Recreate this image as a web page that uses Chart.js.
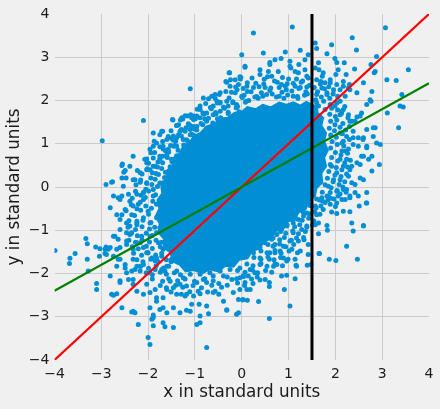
<!DOCTYPE html>
<html>
<head>
<meta charset="utf-8">
<style>
  html, body { margin: 0; padding: 0; background: #f0f0f0; }
  #wrap { width: 440px; height: 409px; }
</style>
<script src="https://cdn.jsdelivr.net/npm/chart.js@4.4.1/dist/chart.umd.min.js"></script>
</head>
<body>
<div id="wrap"><canvas id="scatter-chart" width="440" height="409"></canvas></div>
<script>
/* ── Data ───────────────────────────────────────────────── */
const TICKS   = [-4, -3, -2, -1, 0, 1, 2, 3, 4];
const X_LABEL = 'x in standard units';
const Y_LABEL = 'y in standard units';

// ragged outline of the solid centre of the cloud (too dense to read point by point)
const coreOutline = [
  [1.5, 1.9], [1.38, 1.97], [1.25, 1.88], [1.1, 1.96], [0.95, 1.9], [0.8, 1.95], [0.62, 1.84],
  [0.45, 1.9], [0.3, 1.8], [0.12, 1.85], [0.0, 1.74], [-0.15, 1.72], [-0.3, 1.6], [-0.45, 1.58],
  [-0.6, 1.45], [-0.75, 1.4], [-0.88, 1.25], [-1.02, 1.18], [-1.12, 1.02], [-1.25, 0.95],
  [-1.32, 0.78], [-1.45, 0.68], [-1.48, 0.5], [-1.6, 0.38], [-1.6, 0.2], [-1.72, 0.05],
  [-1.7, -0.15], [-1.8, -0.3], [-1.76, -0.5], [-1.84, -0.68], [-1.75, -0.85], [-1.78, -1.05],
  [-1.66, -1.2], [-1.66, -1.4], [-1.52, -1.52], [-1.48, -1.72], [-1.32, -1.8], [-1.2, -1.95],
  [-1.02, -1.92], [-0.85, -2.0], [-0.68, -1.9], [-0.5, -1.95], [-0.35, -1.82], [-0.18, -1.84],
  [-0.05, -1.68], [0.12, -1.65], [0.22, -1.48], [0.38, -1.42], [0.48, -1.25], [0.62, -1.2],
  [0.72, -1.02], [0.88, -0.98], [0.98, -0.8], [1.12, -0.76], [1.22, -0.58], [1.36, -0.52],
  [1.44, -0.32], [1.56, -0.22], [1.6, -0.02], [1.72, 0.1], [1.7, 0.32], [1.8, 0.48],
  [1.76, 0.68], [1.84, 0.85], [1.76, 1.05], [1.8, 1.25], [1.7, 1.42], [1.74, 1.6],
  [1.62, 1.72], [1.6, 1.86], [1.5, 1.9],
];

const dots = [
  // upper left
  [-2.98, 1.07], [-2.10, 1.54], [-1.10, 2.27], [-2.32, 0.71], [-2.90, 0.06], [-2.76, 0.12],
  [-2.55, 0.53], [-2.49, 0.38], [-2.39, 0.48], [-2.23, 0.38], [-2.03, 0.56], [-1.94, 0.79],
  [-1.89, 0.94], [-1.82, 1.02], [-1.69, 1.29], [-1.46, 1.18], [-1.48, 1.56], [-1.28, 1.60],
  [-1.21, 1.65], [-1.03, 1.64], [-0.89, 1.79], [-0.82, 2.06], [-0.71, 2.04], [-0.64, 2.10],
  [-0.57, 2.14], [-0.48, 2.14], [-2.74, -0.21], [-2.60, -0.29], [-2.39, -0.33], [-2.24, -0.17],
  [-2.10, -0.13], [-2.52, 0.34], [-2.56, 0.21], [-2.32, 0.17], [-2.03, 0.40], [-1.89, 0.48],
  [-1.75, 0.71], [-1.60, 0.83], [-1.68, 0.94], [-1.60, 1.10], [-1.39, 0.94], [-1.21, 1.29],
  [-1.10, 1.33], [-0.96, 1.40], [-1.35, 1.44], [-0.89, 1.60], [-0.75, 1.71], [-0.61, 1.87],
  [-0.53, 1.98], [-1.47, 1.55], [-1.26, 1.57], [-1.16, 1.64], [-1.07, 1.60], [-0.96, 1.64],
  [-0.89, 1.87], [-0.46, 2.18], [-0.34, 2.21], [-0.25, 2.33], [-0.24, 2.48], [-0.27, 2.64],
  [-0.32, 2.42], [-0.07, 2.37], [0.07, 2.79], [-0.04, 2.55], [0.11, 2.33], [-0.14, 2.18],
  [-0.52, 1.94], [-0.32, 1.98], [-1.71, 1.29], [-1.75, 1.21], [-1.87, 1.06], [-1.96, 0.87],
  [-2.03, 0.65], [-2.56, 0.50], [-2.47, 0.21], [-2.78, 0.11], [-2.53, 0.02], [-2.17, 0.11],
  [-2.07, 0.64], [-1.57, 0.87], [-1.68, 0.88], [-1.43, 0.96], [-1.89, 1.25], [-1.50, 1.12],
  [-1.32, 1.29], [-1.19, 1.37], [-1.39, 1.42], [-1.39, 1.14], [-1.25, 1.10], [-1.10, 1.21],
  [-1.03, 1.40], [-0.75, 1.52], [-0.61, 1.67], [-0.46, 1.75], [-0.29, 1.87], [-0.11, 1.91],
  [-1.60, 0.75], [-1.50, 0.64], [-1.75, 0.64], [-1.85, 0.48], [-1.78, 0.29], [-1.96, 0.40],
  [-2.17, 0.33], [-2.28, 0.17], [-2.03, 0.10], [-1.89, -0.06], [-1.68, 0.10], [-2.10, -0.13],
  // top
  [0.25, 3.56], [1.08, 3.70], [3.07, 3.68], [2.36, 3.45], [2.45, 3.17], [1.57, 3.33],
  [1.92, 3.29], [1.82, 3.08], [1.60, 3.20], [0.00, 3.06], [0.46, 3.10], [0.93, 3.12],
  [1.25, 3.16], [1.42, 3.06], [0.84, 2.97], [0.71, 2.94], [0.60, 2.88], [1.03, 2.91],
  [1.22, 2.83], [1.35, 2.94], [0.07, 2.77], [0.39, 2.71], [0.57, 2.67], [0.78, 2.67],
  [1.05, 2.75], [1.14, 2.67], [-0.26, 2.64], [-0.34, 2.44], [-0.14, 2.48], [-0.02, 2.54],
  [0.60, 2.83], [0.64, 2.56], [1.03, 2.79], [1.21, 2.64], [1.39, 2.56], [0.39, 2.60],
  [0.85, 2.37], [1.14, 2.33], [1.35, 2.71], [0.00, 2.10], [0.20, 2.20], [0.35, 2.05],
  [0.50, 2.30], [0.65, 2.15], [0.80, 2.10], [0.95, 2.25], [1.10, 2.10], [1.25, 2.30],
  [1.40, 2.15], [0.30, 2.40], [0.70, 2.45], [1.00, 2.50], [1.30, 2.45], [-0.10, 2.25],
  [0.15, 2.00], [0.45, 2.10], [0.90, 2.05], [1.20, 2.05], [1.45, 2.35], [0.55, 2.55],
  [0.25, 2.30], [1.10, 2.40], [0.80, 2.30],
  // upper right
  [1.99, 2.97], [2.03, 2.88], [2.19, 2.87], [2.06, 2.71], [2.41, 2.73], [1.65, 2.71],
  [1.72, 2.56], [1.89, 2.48], [1.69, 2.44], [2.01, 2.60], [2.17, 2.44], [2.30, 2.37],
  [2.60, 2.41], [2.85, 2.67], [2.88, 3.02], [2.76, 2.83], [2.83, 2.64], [3.10, 2.48],
  [3.30, 2.46], [3.56, 2.71], [3.42, 2.14], [3.38, 1.87], [3.45, 1.85], [3.35, 1.37],
  [3.11, 1.71], [2.96, 0.98], [2.94, 0.52], [2.78, 0.71], [2.67, 1.33], [2.81, 1.37],
  [2.74, 2.02], [2.78, 2.21], [2.67, 1.91], [2.56, 1.71], [2.46, 1.62], [2.35, 1.52],
  [2.60, 1.14], [2.67, 0.94], [2.49, 0.94], [2.38, 1.14], [2.60, 0.71], [2.53, 0.52],
  [2.60, 0.17], [2.67, -0.13], [2.67, -0.37], [2.42, 0.06], [2.24, -0.06], [2.49, -0.21],
  [2.21, -0.29], [2.31, -0.25], [2.06, -0.21], [2.03, -0.37], [2.10, 0.17], [2.28, 0.25],
  [2.35, 0.48], [2.24, 0.64], [2.14, 0.83], [2.17, 1.06], [2.10, 1.25], [1.99, 1.44],
  [2.14, 1.75], [2.03, 1.94], [2.21, 2.10], [2.10, 2.25], [2.28, 2.29], [1.96, 2.25],
  [1.82, 2.14], [2.76, 1.98], [2.85, 1.37], [2.81, 1.17], [2.88, 1.02], [2.67, 0.91],
  [2.71, 0.64], [2.78, 0.37], [2.59, 1.10], [2.53, 1.64], [2.42, 1.52], [2.31, 1.52],
  [2.28, 1.67], [2.46, 2.18], [2.31, 2.25], [2.17, 2.33], [2.03, 2.37], [1.89, 2.41],
  [2.23, 2.60], [1.64, 2.87], [1.57, 2.75], [1.74, 2.64], [1.60, 2.48], [1.78, 2.41],
  [1.71, 2.29], [1.60, 2.14], [1.82, 2.18], [2.10, 1.98], [1.99, 1.87], [1.89, 1.91],
  [2.17, 1.79], [2.10, 1.67], [1.78, 1.79], [1.64, 1.87], [2.38, 1.29], [2.49, 1.14],
  [2.38, 0.98], [2.56, 0.71], [2.46, 0.56], [2.31, 0.40], [2.53, 0.21], [2.35, 0.10],
  [2.17, -0.06], [2.03, -0.10], [2.31, -0.21], [2.24, 1.17], [2.14, 1.02], [2.21, 0.83],
  [2.10, 0.64], [2.17, 0.48], [2.03, 0.33], [1.92, 0.48], [1.96, 0.17], [1.85, 0.02],
  [1.89, -0.13],
  // lower left
  [-3.99, -1.47], [-3.67, -1.65], [-3.56, -1.54], [-3.68, -1.77], [-3.33, -1.19], [-3.30, -1.31],
  [-3.30, -1.67], [-3.12, -1.39], [-3.04, -1.60], [-3.03, -1.43], [-2.90, -1.39], [-2.85, -1.44],
  [-2.92, -1.54], [-3.10, -2.23], [-3.10, -2.37], [-3.28, -1.94], [-2.81, -2.06], [-2.74, -2.50],
  [-2.67, -2.47], [-2.56, -2.79], [-2.35, -2.89], [-2.28, -2.91], [-2.21, -3.18], [-2.00, -3.48],
  [-1.96, -3.64], [-1.92, -3.06], [-1.89, -2.96], [-1.68, -3.14], [-1.46, -3.25], [-0.75, -3.71],
  [-0.89, -3.14], [-0.89, -2.98], [-1.18, -2.85], [-1.32, -2.91], [-1.46, -2.79], [-1.07, -2.71],
  [-0.91, -2.71], [-0.71, -2.93], [-0.61, -2.44], [-1.60, -2.91], [-1.75, -2.83], [-1.68, -2.56],
  [-1.82, -2.64], [-1.96, -2.44], [-2.10, -2.48], [-2.24, -2.41], [-2.03, -2.25], [-2.32, -2.25],
  [-2.42, -2.14], [-2.60, -2.17], [-2.46, -1.98], [-2.67, -1.83], [-2.64, -1.67], [-2.74, -1.60],
  [-2.49, -1.79], [-2.24, -1.83], [-2.35, -1.94], [-2.17, -1.94], [-2.74, -1.14], [-2.60, -0.98],
  [-2.46, -1.25], [-2.60, -1.40], [-2.39, -1.10], [-2.24, -0.87], [-2.81, -0.48], [-2.56, -0.64],
  [-2.46, -0.83], [-2.17, -1.29], [-2.03, -1.52], [-1.82, -1.64], [-1.64, -1.94], [-1.53, -2.18],
  [-1.32, -2.25], [-1.18, -2.48], [-0.93, -2.41], [-0.75, -2.21], [-1.89, -3.21], [-1.89, -3.02],
  [-1.64, -3.23], [-1.10, -2.87], [-0.96, -3.18], [-0.75, -2.75], [-0.32, -2.85], [-0.39, -2.64],
  [-0.11, -2.94], [-0.07, -2.60], [0.03, -2.60], [-0.57, -2.41], [-0.18, -2.44], [0.11, -2.37],
  [-1.96, -2.79], [-1.68, -2.79], [-2.32, -2.87], [-2.78, -2.48], [-2.60, -2.21], [-1.85, -2.37],
  [-1.60, -2.37], [-1.46, -2.33], [-1.18, -2.29], [-0.96, -2.21], [-0.82, -2.14], [-0.61, -2.06],
  [-0.39, -2.06], [-0.21, -2.14], [-0.04, -2.10], [0.14, -2.06], [-1.39, -2.48], [-1.21, -2.52],
  [-1.03, -2.52], [-1.82, -2.56], [-2.32, -2.14], [-2.60, -1.67], [-2.67, -1.44], [-2.71, -1.14],
  [-2.60, -0.75], [-2.67, -0.64], [-2.39, -0.90], [-2.46, -1.06], [-2.24, -1.29], [-2.32, -1.67],
  [-2.17, -1.83], [-1.96, -1.98], [-1.71, -1.91], [-1.85, -1.71], [-2.56, -0.21], [-2.92, -1.44],
  [-2.89, -1.56], [-2.64, -0.25], [-2.42, -0.17], [-2.32, -0.44], [-2.21, -0.40], [-2.10, -0.29],
  [-2.49, -0.52], [-2.35, -0.64], [-2.24, -0.79], [-2.10, -0.71], [-2.00, -0.56], [-1.96, -0.83],
  [-2.35, -1.06], [-2.14, -1.14], [-1.96, -1.14], [-1.82, -1.06], [-1.75, -0.94], [-2.64, -1.21],
  [-2.46, -1.33], [-2.32, -1.44], [-2.10, -1.40], [-2.00, -1.52], [-1.92, -1.64], [-1.71, -1.60],
  [-1.60, -1.83], [-2.81, -1.40], [-2.49, -1.87], [-2.28, -1.91], [-2.10, -1.79], [-1.85, -1.91],
  [-1.68, -1.44], [-1.60, -1.29], [-1.78, -1.29], [-1.60, -1.06], [-1.82, -0.71], [-1.68, -0.52],
  [-1.82, -0.40], [-1.89, -0.21], [-1.60, -0.83], [-1.50, -1.67], [-1.39, -1.94], [-1.25, -2.10],
  [-1.10, -2.02], [-0.89, -2.02], [-0.68, -1.98], [-0.46, -1.94], [-0.25, -1.91], [-0.04, -1.87],
  // lower right
  [2.42, -0.13], [2.23, -0.12], [2.66, -0.37], [2.51, -0.44], [2.31, -0.57], [2.35, -0.83],
  [2.60, -0.89], [2.38, -1.02], [2.17, -0.56], [2.03, -0.61], [1.92, -0.58], [1.82, -0.89],
  [1.83, -1.00], [1.64, -1.08], [2.24, -1.37], [2.47, -1.67], [2.01, -1.70], [1.87, -1.67],
  [1.66, -1.54], [1.57, -0.87], [1.60, -0.64], [1.74, -0.52], [1.89, -0.40], [1.71, -0.25],
  [1.82, -0.21], [2.14, -0.29], [1.48, -1.79], [1.42, -1.56], [1.25, -1.48], [1.14, -1.67],
  [1.16, -1.81], [0.96, -1.71], [0.89, -1.64], [1.07, -1.44], [0.85, -2.06], [0.96, -2.04],
  [1.14, -2.12], [0.91, -2.37], [1.03, -2.75], [0.59, -3.04], [0.36, -2.65], [0.12, -2.62],
  [0.59, -2.30], [0.59, -2.21], [0.50, -2.14], [0.39, -2.15], [0.18, -2.37], [0.07, -2.21],
  [0.28, -1.98], [0.68, -1.83], [0.59, -1.67], [0.75, -1.79], [0.82, -1.48], [0.71, -1.52],
  [1.03, -1.25], [1.21, -1.25], [1.32, -1.17], [1.42, -1.33], [0.39, -1.79], [0.18, -1.91],
  [-0.04, -2.37], [0.03, -2.06], [-0.07, -2.91], [-0.32, -2.84], [0.02, -2.61], [1.17, -1.83],
  [1.40, -1.81], [1.65, -1.54], [2.60, -0.90], [0.11, -1.60], [0.25, -1.52], [0.39, -1.40],
  [0.50, -1.29], [0.64, -1.21], [0.75, -1.10], [0.85, -0.98], [0.96, -0.90], [1.10, -0.83],
  [1.21, -0.75], [1.32, -0.67], [1.39, -0.60], [1.10, -1.06], [1.28, -0.98], [0.60, -1.52],
  [0.39, -1.64], [0.89, -1.37], [0.71, -1.33], [1.39, -0.90], [1.42, -0.37], [1.57, -0.44],
  [1.64, -0.83],
];

const ringDots = [
  // upper left edge
  [-2.47, -0.55], [-2.29, -0.66], [-2.16, -0.54], [-1.99, -0.63], [-2.36, -0.41], [-2.24, -0.50],
  [-2.05, -0.44], [-1.93, -0.49], [-2.34, -0.26], [-2.17, -0.35], [-2.06, -0.24], [-1.90, -0.33],
  [-2.27, -0.10], [-2.15, -0.19], [-1.99, -0.09], [-1.84, -0.18], [-2.26, 0.05], [-2.05, -0.05],
  [-1.92, 0.06], [-1.80, 0.01], [-2.16, 0.16], [-2.03, 0.08], [-1.85, 0.18], [-1.75, 0.09],
  [-2.13, 0.30], [-1.94, 0.21], [-1.83, 0.31], [-1.65, 0.22], [-2.02, 0.42], [-1.91, 0.33],
  [-1.71, 0.43], [-1.63, 0.34], [-1.99, 0.55], [-1.80, 0.46], [-1.69, 0.56], [-1.53, 0.47],
  [-1.89, 0.67], [-1.79, 0.58], [-1.59, 0.68], [-1.49, 0.59], [-1.86, 0.80], [-1.69, 0.71],
  [-1.56, 0.81], [-1.39, 0.72], [-1.75, 0.93], [-1.63, 0.84], [-1.45, 0.94], [-1.36, 0.85],
  [-1.69, 1.05], [-1.52, 0.96], [-1.41, 1.06], [-1.24, 0.97], [-1.16, 1.07], [-1.57, 1.17],
  [-1.46, 1.08], [-1.29, 1.18], [-1.18, 1.09], [-1.02, 1.19], [-1.51, 1.30], [-1.35, 1.21],
  [-1.23, 1.31], [-1.07, 1.22], [-0.96, 1.32], [-1.39, 1.42], [-1.29, 1.33], [-1.11, 1.43],
  [-1.01, 1.34], [-0.83, 1.44], [-0.73, 1.35], [-1.31, 1.55], [-1.14, 1.46], [-1.03, 1.56],
  [-0.87, 1.47], [-0.79, 1.57], [-0.62, 1.48], [-0.52, 1.58], [-1.09, 1.67], [-0.99, 1.58],
  [-0.81, 1.68], [-0.71, 1.59], [-0.55, 1.69], [-0.45, 1.60], [-0.29, 1.70], [-0.95, 1.80],
  [-0.83, 1.71], [-0.65, 1.81], [-0.56, 1.72], [-0.37, 1.82], [-0.29, 1.73], [-0.12, 1.83],
  [-0.06, 1.74], [-0.77, 1.93], [-0.67, 1.84], [-0.47, 1.94], [-0.39, 1.85], [-0.19, 1.95],
  [-0.09, 1.86], [0.08, 1.96], [-0.57, 2.05], [-0.46, 1.96], [-0.27, 2.06], [-0.19, 1.97],
  [0.01, 2.07], [0.09, 1.98], [0.28, 2.08],
  // top edge
  [0.05, 2.12], [0.32, 2.09], [0.53, 2.14], [0.74, 2.08], [0.98, 2.13], [1.19, 2.09],
  [1.34, 2.12], [-0.22, 2.19], [0.12, 2.21], [0.42, 2.18], [0.60, 2.23], [0.86, 2.19],
  [1.07, 2.22], [1.37, 2.20], [-0.13, 2.31], [0.03, 2.28], [0.37, 2.32], [0.62, 2.29],
  [0.93, 2.33], [1.22, 2.28], [1.39, 2.31], [0.12, 2.41], [0.47, 2.38], [0.76, 2.42],
  [0.97, 2.39], [1.27, 2.42], [-0.03, 2.50], [0.22, 2.52], [0.48, 2.49], [0.87, 2.53],
  [1.17, 2.50], [1.42, 2.52], [1.58, 2.02], [1.70, 2.08], [1.88, 2.05], [1.62, 2.20],
  [1.77, 2.27], [1.95, 2.15], [1.55, 2.30], [1.68, 2.38], [1.86, 2.32], [2.05, 2.10],
  [1.60, 1.95], [1.75, 1.98],
  // right edge
  [1.92, 1.82], [2.05, 1.78], [2.20, 1.86], [1.88, 1.68], [2.00, 1.63], [2.13, 1.70],
  [2.27, 1.60], [1.90, 1.52], [2.03, 1.55], [2.16, 1.47], [2.30, 1.40], [1.87, 1.36],
  [1.98, 1.30], [2.10, 1.38], [2.22, 1.32], [1.90, 1.20], [2.02, 1.15], [2.15, 1.23],
  [2.30, 1.10], [1.93, 1.05], [2.04, 0.98], [2.18, 0.95], [2.28, 0.88], [1.90, 0.90],
  [2.00, 0.80], [2.12, 0.74], [2.26, 0.78], [1.92, 0.68], [2.05, 0.60], [2.20, 0.56],
  [2.32, 0.62], [1.89, 0.52], [2.02, 0.45], [2.14, 0.40], [2.26, 0.46], [1.86, 0.36],
  [1.99, 0.28], [2.12, 0.24], [2.24, 0.30], [1.83, 0.20], [1.95, 0.12], [2.08, 0.06],
  [2.20, 0.12], [1.78, 0.05], [1.91, -0.02], [2.04, -0.08], [2.16, 0.00], [1.72, -0.12],
  [1.85, -0.22], [1.97, -0.28], [2.10, -0.16], [1.66, -0.30], [1.78, -0.36], [1.90, -0.26],
  [2.00, -0.45],
  // lower right edge
  [1.60, -0.28], [1.73, -0.33], [1.84, -0.30], [1.46, -0.43], [1.59, -0.48], [1.69, -0.44],
  [1.31, -0.58], [1.44, -0.62], [1.56, -0.57], [1.67, -0.63], [1.16, -0.73], [1.29, -0.77],
  [1.43, -0.72], [1.54, -0.78], [0.97, -0.88], [1.13, -0.92], [1.24, -0.87], [1.39, -0.93],
  [1.51, -0.88], [0.83, -1.03], [0.94, -1.07], [1.09, -1.02], [1.21, -1.08], [1.36, -1.03],
  [0.67, -1.18], [0.81, -1.22], [0.91, -1.17], [1.06, -1.23], [1.17, -1.18], [1.33, -1.22],
  [0.56, -1.33], [0.67, -1.37], [0.81, -1.32], [0.94, -1.38], [1.11, -1.33], [0.41, -1.48],
  [0.54, -1.52], [0.71, -1.47], [0.84, -1.53], [1.01, -1.48], [1.19, -1.52], [0.26, -1.63],
  [0.41, -1.67], [0.56, -1.62], [0.69, -1.68], [0.83, -1.63], [0.99, -1.67], [0.11, -1.78],
  [0.24, -1.82], [0.41, -1.77], [0.54, -1.83], [0.71, -1.78], [0.87, -1.82], [-0.09, -1.93],
  [0.07, -1.97], [0.23, -1.92], [0.34, -1.98], [0.51, -1.93], [0.64, -1.97], [-0.31, -2.08],
  [-0.11, -2.12], [0.04, -2.07], [0.21, -2.13], [0.33, -2.08], [-0.49, -2.23], [-0.31, -2.27],
  [-0.09, -2.22], [0.06, -2.28], [0.24, -2.23],
  // lower left edge
  [-2.41, -0.78], [-2.24, -0.83], [-2.11, -0.77], [-1.94, -0.82], [-2.43, -0.93], [-2.27, -0.98],
  [-2.13, -0.92], [-1.97, -0.97], [-1.86, -0.93], [-2.37, -1.08], [-2.23, -1.13], [-2.04, -1.07],
  [-1.91, -1.12], [-2.41, -1.23], [-2.27, -1.28], [-2.13, -1.22], [-1.97, -1.27], [-1.83, -1.23],
  [-1.71, -1.28], [-2.34, -1.38], [-2.21, -1.43], [-2.04, -1.37], [-1.91, -1.42], [-1.74, -1.38],
  [-2.31, -1.53], [-2.14, -1.58], [-2.01, -1.52], [-1.84, -1.57], [-1.71, -1.53], [-2.24, -1.68],
  [-2.11, -1.73], [-1.94, -1.67], [-1.79, -1.72], [-1.61, -1.68], [-1.51, -1.73], [-2.16, -1.83],
  [-1.99, -1.88], [-1.83, -1.82], [-1.67, -1.87], [-1.56, -1.83], [-2.04, -1.98], [-1.91, -2.03],
  [-1.74, -1.97], [-1.61, -2.02], [-1.44, -1.98], [-1.31, -2.03], [-1.91, -2.13], [-1.69, -2.18],
  [-1.56, -2.12], [-1.37, -2.17], [-1.21, -2.13], [-1.01, -2.18], [-0.79, -2.12], [-0.61, -2.17],
  [-1.74, -2.28], [-1.61, -2.33], [-1.41, -2.27], [-1.26, -2.32], [-1.04, -2.28], [-0.86, -2.33],
  [-0.64, -2.27], [-0.43, -2.32], [-1.51, -2.43], [-1.29, -2.48], [-1.11, -2.42], [-0.89, -2.47],
  [-0.73, -2.43], [-0.49, -2.48],
];

const diagonal = [[-4, -4], [4, 4]];
const fitLine  = [[-4, -2.4], [4, 2.4]];
const cutLine  = [[1.5, -4], [1.5, 4]];

/* ── Helpers ────────────────────────────────────────────── */
const BLUE = '#008fd5';
const TEXT = '#1c1c1c';
const toXY = pairs => pairs.map(([x, y]) => ({ x, y }));
const fmtTick = v => (v < 0 ? '\u2212' + Math.abs(v) : String(v));
const gridColor = ctx => (Math.abs(ctx.tick?.value) === 4 ? 'rgba(0,0,0,0)' : '#cbcbcb');

Chart.defaults.font.family = "'DejaVu Sans', sans-serif";

function lineSet(pairs, color, width, order) {
  return {
    type: 'line',
    data: toXY(pairs),
    borderColor: color,
    borderWidth: width,
    pointRadius: 0,
    tension: 0,
    fill: false,
    order,
  };
}

function dotSet(pairs, order) {
  return {
    data: toXY(pairs),
    backgroundColor: BLUE,
    borderWidth: 0,
    pointRadius: 2.5,
    pointHoverRadius: 2.5,
    order,
  };
}

/* ── Chart ──────────────────────────────────────────────── */
new Chart(document.getElementById('scatter-chart'), {
  type: 'scatter',
  data: {
    datasets: [
      lineSet(cutLine, '#000000', 3, 1),
      lineSet(fitLine, '#008000', 2.2, 2),
      lineSet(diagonal, '#ff0000', 2.2, 3),
      dotSet(dots, 4),
      dotSet(ringDots, 5),
      {
        type: 'line',
        data: toXY(coreOutline),
        borderColor: BLUE,
        backgroundColor: BLUE,
        borderWidth: 2,
        pointRadius: 0,
        tension: 0,
        fill: 'shape',
        order: 6,
      },
    ],
  },
  options: {
    responsive: false,
    devicePixelRatio: 1,
    animation: false,
    events: [],
    layout: { padding: { top: 14, right: 11, left: 0, bottom: 0 } },
    plugins: { legend: { display: false }, tooltip: { enabled: false } },
    scales: {
      x: {
        type: 'linear',
        min: -4,
        max: 4,
        afterBuildTicks: s => { s.ticks = TICKS.map(v => ({ value: v })); },
        afterFit: s => { s.height = 49; },
        grid: { color: gridColor, lineWidth: 1, drawTicks: false },
        border: { display: false },
        ticks: { color: TEXT, font: { size: 14 }, padding: 6, callback: fmtTick },
        title: { display: true, text: X_LABEL, color: TEXT, font: { size: 16.8 }, padding: { top: 0, bottom: 6 } },
      },
      y: {
        type: 'linear',
        min: -4,
        max: 4,
        afterBuildTicks: s => { s.ticks = TICKS.map(v => ({ value: v })); },
        afterFit: s => { s.width = 54.5; },
        grid: { color: gridColor, lineWidth: 1, drawTicks: false },
        border: { display: false },
        ticks: { color: TEXT, font: { size: 14 }, padding: 5, callback: fmtTick },
        title: { display: true, text: Y_LABEL, color: TEXT, font: { size: 16.8 }, padding: { top: 5, bottom: 0 } },
      },
    },
  },
});
</script>
</body>
</html>
